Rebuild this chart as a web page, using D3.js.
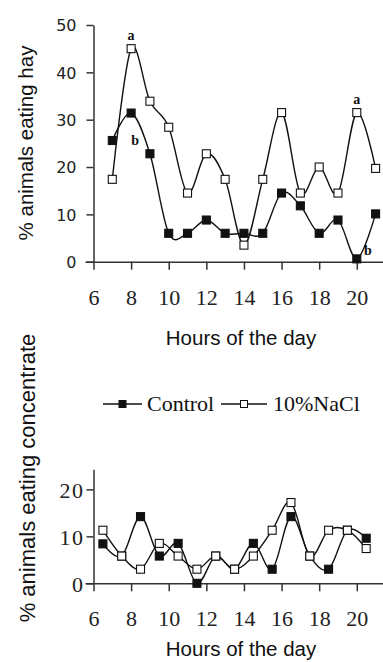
<!DOCTYPE html>
<html>
<head>
<meta charset="utf-8">
<script src="https://cdn.jsdelivr.net/npm/d3@7"></script>
<style>
  html, body { margin: 0; padding: 0; background: #fff; }
  svg { display: block; }
</style>
</head>
<body>
<svg id="fig" width="383" height="662"></svg>
<script>
// Hay intake: hourly observations 7..21 h
const hayHours = [7, 8, 9, 10, 11, 12, 13, 14, 15, 16, 17, 18, 19, 20, 21];
const hayControl = [25.6, 31.4, 22.8, 6.0, 6.0, 8.8, 6.0, 6.0, 6.0, 14.5, 11.8, 6.0, 8.8, 0.6, 10.1];
const hayNaCl = [17.4, 45.0, 33.9, 28.4, 14.5, 22.8, 17.4, 3.5, 17.4, 31.5, 14.5, 20.0, 14.5, 31.5, 19.7];

// Concentrate intake: half-hour offsets 6.5..20.5 h
const concHours = [6.5, 7.5, 8.5, 9.5, 10.5, 11.5, 12.5, 13.5, 14.5, 15.5, 16.5, 17.5, 18.5, 19.5, 20.5];
const concControl = [8.4, 5.8, 14.2, 5.8, 8.5, 0.0, 5.8, 3.0, 8.5, 3.0, 14.2, 5.8, 3.0, 11.3, 9.6];
const concNaCl = [11.3, 5.8, 3.0, 8.5, 5.8, 3.0, 5.8, 3.0, 5.8, 11.3, 17.2, 5.8, 11.3, 11.3, 7.4];

const xTicks = [6, 8, 10, 12, 14, 16, 18, 20];
const hayYTicks = [0, 10, 20, 30, 40, 50];
const concYTicks = [0, 10, 20];

// Significance letters on the hay panel
const hayLetters = [
  { hour: 8, series: "NaCl", text: "a" },
  { hour: 8, series: "Control", text: "b" },
  { hour: 20, series: "NaCl", text: "a" },
  { hour: 20, series: "Control", text: "b" }
];

const svg = d3.select("#fig");
const ink = "#111";
const axisInk = "#333";

const x = d3.scaleLinear().domain([6, 21.5]).range([93.5, 385]);

function drawPanel(cfg) {
  const y = d3.scaleLinear().domain(cfg.yDomain).range(cfg.yRange);
  const g = svg.append("g");

  // y axis
  const yAxis = d3.axisLeft(y).tickValues(cfg.yTicks).tickSize(7).tickSizeOuter(0).tickFormat(d3.format("d"));
  const ya = g.append("g").attr("transform", `translate(${x(6)},0)`).call(yAxis);
  ya.select(".domain").attr("stroke", axisInk).attr("stroke-width", 1.5);
  ya.selectAll(".tick line").attr("stroke", axisInk).attr("stroke-width", 1.5);
  ya.selectAll(".tick text")
    .attr("fill", "#222")
    .attr("x", cfg.yLabelX)
    .attr("dy", "0.36em")
    .style("font-family", cfg.yTickFont)
    .style("font-size", cfg.yTickSize + "px")
    .style("letter-spacing", cfg.yTickSpacing + "px");

  // x axis
  const xAxis = d3.axisBottom(x).tickValues(xTicks).tickSize(8).tickSizeOuter(0);
  const xa = g.append("g").attr("transform", `translate(0,${y(0)})`).call(xAxis);
  xa.select(".domain").attr("stroke", axisInk).attr("stroke-width", 1.5)
    .attr("d", `M${x(6) - 8},0.5H383`);
  xa.selectAll(".tick line").attr("stroke", axisInk).attr("stroke-width", 1.5);
  xa.selectAll(".tick text")
    .attr("fill", "#222")
    .attr("y", cfg.xLabelDy)
    .attr("dy", 0)
    .style("font-family", "'Liberation Serif', 'Times New Roman', serif")
    .style("font-size", "22px");

  // series
  const line = d3.line()
    .x((d, i) => x(cfg.hours[i]))
    .y(d => y(d))
    .curve(d3.curveCardinal);

  const series = [
    { name: "Control", values: cfg.control, fill: ink },
    { name: "NaCl", values: cfg.nacl, fill: "#fff" }
  ];

  series.forEach(s => {
    g.append("path")
      .attr("d", line(s.values))
      .attr("fill", "none")
      .attr("stroke", ink)
      .attr("stroke-width", 1.4);
  });
  series.forEach(s => {
    g.selectAll(null)
      .data(s.values)
      .enter()
      .append("rect")
      .attr("x", (d, i) => x(cfg.hours[i]) - 4)
      .attr("y", d => y(d) - 4)
      .attr("width", 8)
      .attr("height", 8)
      .attr("fill", s.fill)
      .attr("stroke", ink)
      .attr("stroke-width", 1.1);
  });

  // axis titles
  g.append("text")
    .attr("transform", `translate(${cfg.yTitleX},${cfg.yTitleY}) rotate(-90)`)
    .attr("text-anchor", "middle")
    .style("font-family", "'Liberation Sans', Arial, sans-serif")
    .style("font-size", cfg.yTitleSize + "px")
    .attr("fill", "#111")
    .text(cfg.yTitle);

  g.append("text")
    .attr("x", 241)
    .attr("y", cfg.xTitleY)
    .attr("text-anchor", "middle")
    .style("font-family", "'Liberation Sans', Arial, sans-serif")
    .style("font-size", "20.5px")
    .attr("fill", "#111")
    .text("Hours of the day");

  return { g, y };
}

// Hay panel
const hay = drawPanel({
  hours: hayHours, control: hayControl, nacl: hayNaCl,
  yDomain: [0, 50], yRange: [261.7, 25], yTicks: hayYTicks,
  yTickFont: "'DejaVu Sans', Verdana, sans-serif", yTickSize: 16, yTickSpacing: 0,
  yLabelX: -17, xLabelDy: 43,
  yTitle: "% animals eating hay", yTitleX: 33, yTitleY: 143, yTitleSize: 20.5,
  xTitleY: 345
});

// letters above/below the marked points
hayLetters.forEach(l => {
  const i = hayHours.indexOf(l.hour);
  const v = l.series === "NaCl" ? hayNaCl[i] : hayControl[i];
  let lx = x(l.hour), ly;
  if (l.series === "NaCl") { ly = hay.y(v) - 9; }
  else if (l.hour === 8) { ly = hay.y(v) + 32; lx += 4; }
  else { lx += 11; ly = hay.y(v) - 4; }
  hay.g.append("text")
    .attr("x", lx)
    .attr("y", ly)
    .attr("text-anchor", "middle")
    .style("font-family", "'Liberation Serif', 'Times New Roman', serif")
    .style("font-size", "14px")
    .style("font-weight", "bold")
    .attr("fill", "#111")
    .text(l.text);
});

// Concentrate panel
drawPanel({
  hours: concHours, control: concControl, nacl: concNaCl,
  yDomain: [0, 24.3], yRange: [583.3, 469.2], yTicks: concYTicks,
  yTickFont: "'Liberation Serif', 'Times New Roman', serif", yTickSize: 22, yTickSpacing: 1.5,
  yLabelX: -9, xLabelDy: 43,
  yTitle: "% animals eating concentrate", yTitleX: 35, yTitleY: 478, yTitleSize: 22,
  xTitleY: 656
});

// Legend
const legend = svg.append("g");
const legendItems = [
  { label: "Control", fill: ink, x0: 103, x1: 142, tx: 147 },
  { label: "10%NaCl", fill: "#fff", x0: 221, x1: 267, tx: 273 }
];
legendItems.forEach(it => {
  legend.append("line")
    .attr("x1", it.x0).attr("x2", it.x1)
    .attr("y1", 404).attr("y2", 404)
    .attr("stroke", ink).attr("stroke-width", 1.4);
  legend.append("rect")
    .attr("x", (it.x0 + it.x1) / 2 - 3.5).attr("y", 400.5)
    .attr("width", 7).attr("height", 7)
    .attr("fill", it.fill).attr("stroke", ink).attr("stroke-width", 1);
  legend.append("text")
    .attr("x", it.tx).attr("y", 411)
    .style("font-family", "'Liberation Serif', 'Times New Roman', serif")
    .style("font-size", "22px")
    .attr("fill", "#111")
    .text(it.label);
});
</script>
</body>
</html>
